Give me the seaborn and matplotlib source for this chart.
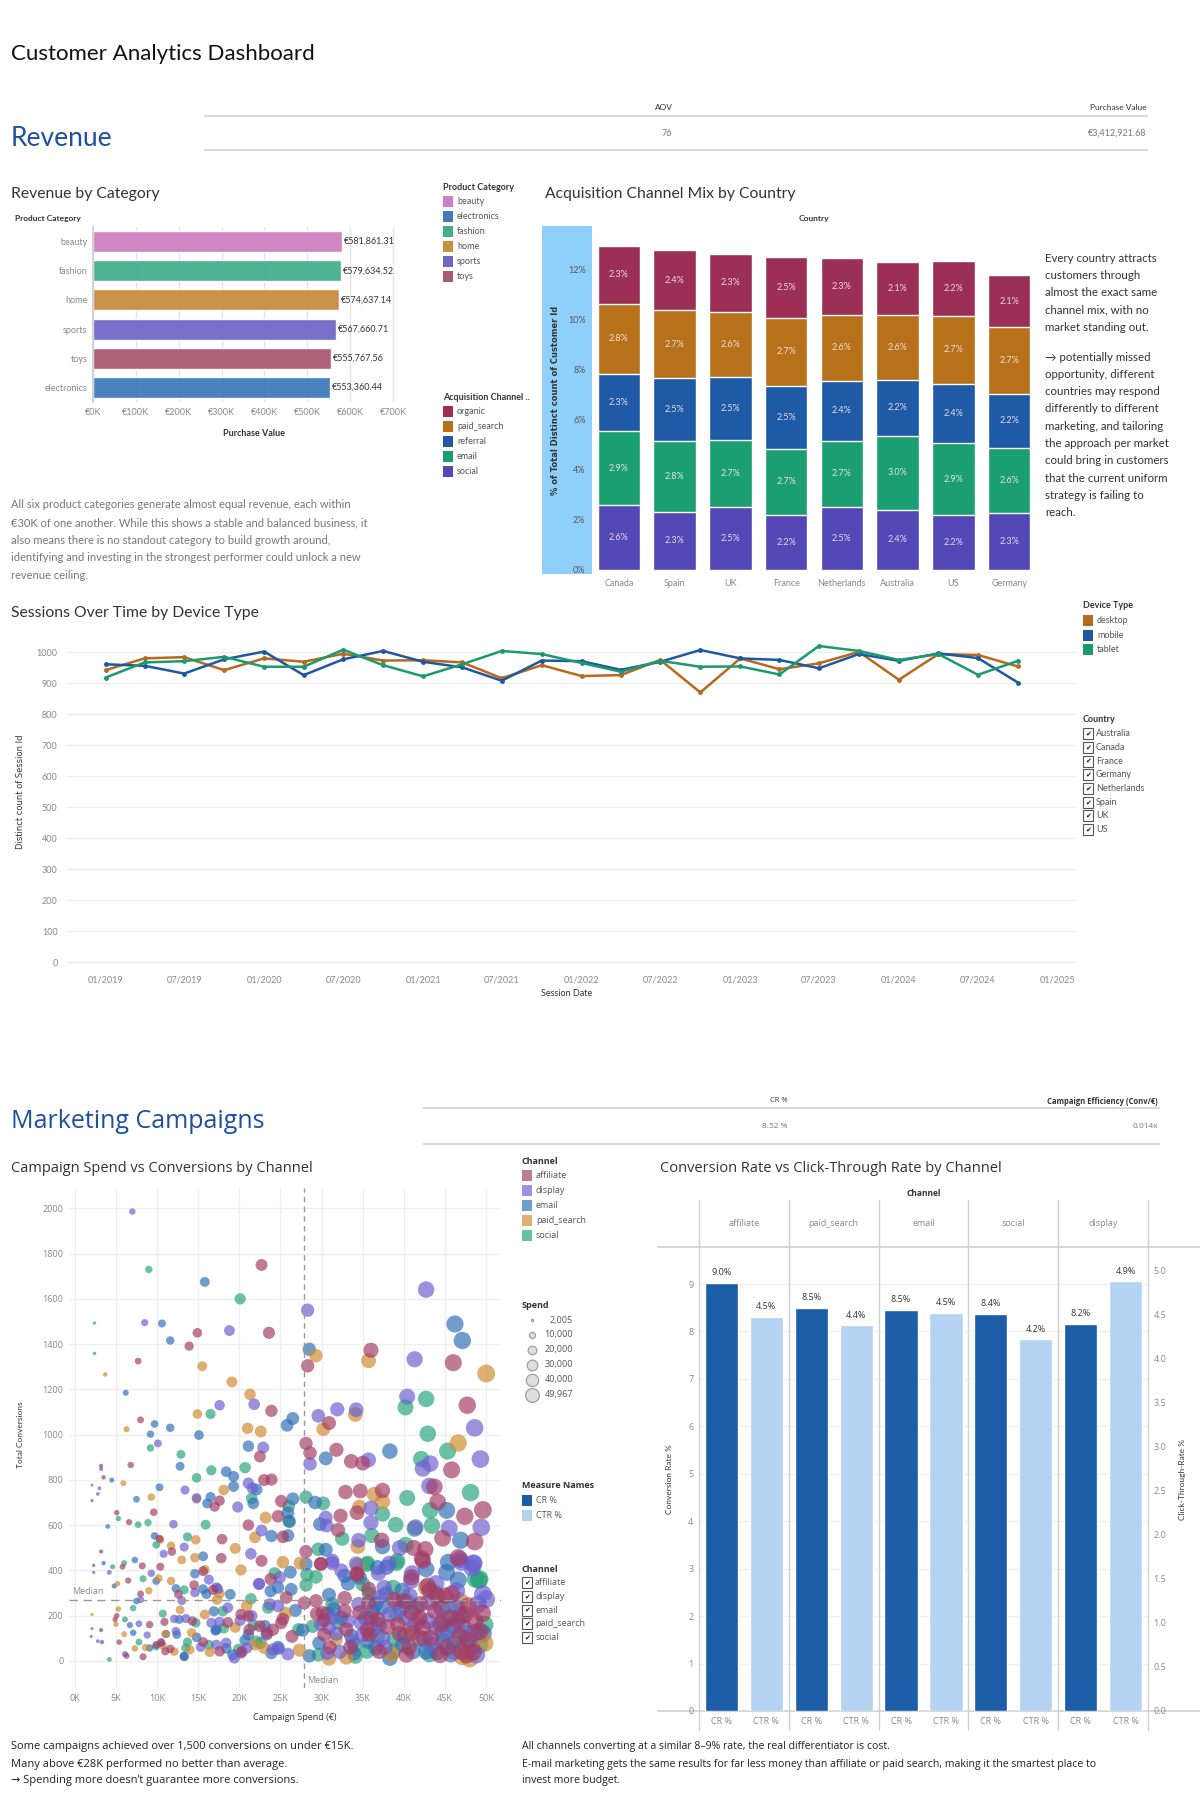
import matplotlib
matplotlib.use('Agg')
from matplotlib import pyplot as plt
from matplotlib import dates as mdates
from matplotlib.ticker import FuncFormatter, MultipleLocator
from matplotlib.patches import Rectangle
import pandas as pd
import seaborn as sns

W, H = 1200, 1800

# KPI tiles
aov = '76'
purchase_total = '€3,412,921.68'
cr_total = '8.52 %'
efficiency = '0.014x'

# revenue by category
rev_cats = ['beauty', 'fashion', 'home', 'sports', 'toys', 'electronics']
rev_vals = [581861.31, 579634.52, 574637.14, 567660.71, 555767.56, 553360.44]
cat_legend = ['beauty', 'electronics', 'fashion', 'home', 'sports', 'toys']
cat_colors = ['#cd80c0', '#3f7bb9', '#45ae8c', '#c98d40', '#7068c8', '#a95a73']

# acquisition channel mix (% of customers)
countries = ['Canada', 'Spain', 'UK', 'France', 'Netherlands', 'Australia', 'US', 'Germany']
mix_social = [2.59, 2.31, 2.52, 2.18, 2.50, 2.38, 2.18, 2.26]
mix_email = [2.94, 2.84, 2.67, 2.66, 2.66, 2.98, 2.87, 2.62]
mix_referral = [2.31, 2.51, 2.52, 2.52, 2.40, 2.22, 2.40, 2.17]
mix_paid = [2.81, 2.73, 2.62, 2.71, 2.63, 2.62, 2.70, 2.67]
mix_organic = [2.32, 2.39, 2.31, 2.46, 2.27, 2.13, 2.22, 2.06]
acq_legend = ['organic', 'paid_search', 'referral', 'email', 'social']
acq_colors = ['#9b2f55', '#b8711b', '#1e5aa5', '#1c9e73', '#5448b6']

# sessions per quarter
desktop = [943, 981, 985, 943, 981, 970, 996, 974, 975, 968, 917, 959,
           924, 927, 976, 871, 981, 946, 965, 1002, 912, 995, 992, 955]
mobile = [962, 957, 932, 978, 1003, 927, 978, 1005, 970, 952, 909, 974,
          972, 944, 970, 1008, 981, 976, 949, 995, 973, 997, 982, 903]
tablet = [919, 968, 972, 986, 954, 954, 1009, 959, 923, 962, 1005, 995,
          966, 938, 973, 954, 955, 929, 1021, 1005, 976, 995, 928, 973]
devices = ['desktop', 'mobile', 'tablet']
dev_colors = ['#b8691b', '#1e58a3', '#1c9a6f']
country_filter = ['Australia', 'Canada', 'France', 'Germany', 'Netherlands', 'Spain', 'UK', 'US']

# campaigns: (spend in K€, conversions)
affiliate_pts = [
    (22.7, 1750), (14.9, 1450), (23.6, 1450), (13.9, 1391), (36.0, 1373), (46.0, 1318), (7.7, 1325), (28.3, 1304),
    (23.9, 1105), (47.7, 1130), (30.9, 1051), (8.0, 1065), (22.5, 903), (28.1, 961), (28.6, 919), (31.8, 933),
    (33.6, 882), (35.0, 874), (45.8, 844), (3.2, 862), (3.5, 811), (6.8, 866), (2.1, 708), (23.0, 799), (23.9, 801),
    (17.6, 708), (17.0, 682), (25.1, 706), (32.9, 746), (34.7, 751), (37.4, 753), (43.7, 769), (44.1, 702), (49.6, 667),
    (24.7, 639), (21.1, 600), (25.3, 548), (32.0, 578), (32.3, 641), (34.3, 655), (37.3, 533), (41.2, 499), (42.6, 493),
    (44.7, 542), (47.4, 639), (48.6, 527), (46.6, 456), (42.2, 452), (34.3, 381), (29.9, 428), (28.1, 483), (23.8, 361),
    (22.7, 442), (5.1, 655), (6.6, 613), (9.6, 657), (10.3, 540), (11.8, 483), (17.8, 454), (17.9, 538), (15.6, 396),
    (10.4, 416), (8.2, 420), (5.8, 416), (3.2, 483), (2.3, 422), (6.5, 355), (8.0, 296), (5.1, 199), (4.9, 183), (9.1, 160),
    (3.2, 136), (3.3, 83), (5.4, 83), (6.3, 22), (8.3, 18), (11.6, 53), (10.9, 172), (12.6, 294), (14.5, 335), (15.6, 83),
    (16.8, 314), (18.6, 170), (20.3, 41), (21.2, 138), (23.4, 122), (25.3, 185), (26.4, 108), (27.9, 256),
    (29.9, 429), (34.3, 387), (35.7, 317), (42.3, 443), (40.9, 369), (42.9, 332), (43.1, 310), (45.8, 295), (45.0, 287),
    (40.0, 265), (35.7, 257), (32.8, 277), (29.3, 265), (29.4, 208), (30.1, 213), (32.8, 220), (33.0, 138), (30.3, 116),
    (34.6, 213), (35.5, 138), (36.8, 183), (39.3, 161), (40.9, 213), (41.9, 190), (42.3, 146), (43.3, 101), (45.6, 190),
    (47.4, 205), (48.6, 176), (49.2, 131), (47.6, 27), (47.0, 42), (44.4, 27), (41.9, 101), (40.3, 27), (37.0, 42),
    (35.8, 116), (41.0, 124), (46.8, 109), (47.8, 243), (21.1, 198), (22.5, 153), (24.1, 138), (25.1, 168), (17.6, 42),
    (20.2, 205), (25.7, 280), (14.3, 176), (10.5, 79), (9.9, 71), (11.0, 42),
    (30.3, 180), (31.0, 60), (33.5, 60), (36.0, 190), (38.0, 150), (39.5, 120), (40.6, 60), (42.0, 250), (43.8, 220),
    (44.5, 160), (45.2, 60), (46.5, 180), (47.8, 90), (48.4, 40), (49.5, 210), (38.8, 270), (44.0, 290)]
display_pts = [
    (7.0, 1986), (28.3, 1550), (8.5, 1495), (18.8, 1460), (42.7, 1641), (41.3, 1333), (21.8, 1134), (17.6, 1130),
    (40.4, 1168), (31.9, 1112), (34.2, 1110), (29.6, 1083), (48.6, 1030), (10.1, 961), (22.9, 943), (28.6, 870),
    (35.7, 888), (42.3, 850), (43.2, 872), (49.3, 892), (3.2, 848), (3.0, 763), (2.8, 738), (21.1, 785), (21.6, 763),
    (13.4, 755), (14.8, 720), (19.8, 680), (43.1, 773), (36.0, 675), (22.7, 576), (30.5, 633), (30.6, 598), (34.5, 533),
    (36.0, 611), (39.5, 499), (41.4, 590), (45.5, 586), (49.4, 590), (46.8, 448), (48.5, 432), (38.2, 430), (31.3, 432),
    (21.4, 473), (22.4, 341), (12.0, 604), (10.8, 473), (13.3, 503), (16.3, 359), (17.4, 318), (13.0, 266), (9.3, 387),
    (4.2, 391), (2.3, 391), (8.0, 270), (7.8, 164), (8.8, 114), (2.1, 142), (2.8, 87), (6.1, 30), (10.5, 83), (12.1, 185),
    (13.5, 187), (14.6, 302), (15.3, 61), (17.6, 172), (17.2, 71), (19.4, 12), (21.5, 199), (23.7, 250), (24.1, 51),
    (25.9, 30), (31.3, 443), (32.4, 399), (36.9, 387), (41.0, 387), (40.9, 354), (43.9, 342), (48.4, 429), (49.6, 295),
    (50.0, 272), (46.4, 310), (47.0, 436), (48.3, 411), (37.6, 324), (40.7, 287), (39.1, 257), (37.0, 280), (34.2, 429),
    (31.3, 190), (29.9, 161), (30.9, 146), (30.7, 34), (33.8, 86), (34.8, 168), (35.0, 116), (38.3, 205), (40.2, 190),
    (42.9, 176), (43.9, 146), (46.4, 235), (48.8, 27), (43.5, 71), (37.4, 101), (45.4, 131), (48.6, 124), (33.2, 176),
    (20.1, 179), (23.3, 116), (24.8, 54), (20.9, 57), (20.2, 34), (18.4, 79), (16.6, 168), (18.6, 235), (24.7, 243),
    (22.4, 339), (24.9, 369), (12.3, 131),
    (31.8, 120), (34.5, 250), (36.3, 140), (37.7, 60), (39.6, 230), (41.3, 160), (43.0, 260), (44.6, 230), (47.2, 150),
    (49.0, 250), (45.7, 30), (32.2, 40)]
email_pts = [
    (15.8, 1675), (10.6, 1491), (46.2, 1489), (47.1, 1416), (11.6, 1416), (28.5, 1377), (6.2, 1185), (26.5, 1071),
    (25.8, 1041), (9.7, 1047), (9.2, 1002), (11.6, 1030), (15.1, 998), (21.1, 949), (12.8, 860), (30.5, 895), (38.3, 927),
    (4.5, 799), (7.5, 714), (10.3, 767), (18.4, 836), (19.3, 815), (19.3, 771), (22.1, 757), (16.1, 696), (16.5, 724),
    (21.7, 696), (26.5, 716), (29.2, 700), (45.2, 665), (25.9, 655), (26.1, 615), (23.9, 552), (25.9, 554), (29.8, 604),
    (30.5, 491), (37.4, 505), (46.9, 533), (45.4, 436), (36.8, 412), (28.1, 428), (26.2, 392), (23.8, 308), (26.3, 316),
    (4.0, 594), (9.7, 552), (15.6, 462), (14.6, 385), (12.3, 320), (9.9, 353), (7.3, 446), (3.5, 432), (4.8, 331),
    (7.5, 264), (6.7, 158), (7.1, 124), (2.0, 108), (9.1, 57), (12.4, 116), (13.3, 20), (16.9, 219), (17.1, 134),
    (18.4, 55), (18.9, 294), (20.7, 91), (23.1, 154), (24.7, 61), (26.8, 223), (27.7, 136), (33.2, 342), (32.8, 376),
    (37.9, 414), (42.7, 406), (46.6, 357), (45.2, 391), (39.8, 310), (37.8, 295), (36.6, 253), (34.6, 369), (30.9, 292),
    (30.7, 208), (32.4, 190), (29.7, 79), (28.5, 22), (33.9, 34), (36.2, 220), (37.4, 235), (41.5, 235), (44.8, 176),
    (46.2, 79), (42.7, 42), (41.1, 42), (39.9, 71), (38.3, 12), (36.6, 57), (35.6, 86), (46.0, 153), (44.8, 86),
    (23.9, 34), (21.1, 116), (19.2, 27), (17.2, 138), (16.0, 295), (15.6, 317), (24.7, 324), (17.2, 324), (13.3, 19),
    (14.8, 104), (12.7, 183), (11.1, 119),
    (31.5, 230), (33.6, 110), (35.3, 190), (37.0, 160), (40.1, 110), (42.5, 95), (44.0, 40), (46.9, 200), (48.2, 60),
    (49.6, 120)]
paid_pts = [
    (29.3, 1349), (35.7, 1327), (50.0, 1270), (3.7, 1266), (15.5, 1302), (19.1, 1233), (21.3, 1178), (14.9, 1091),
    (34.1, 1089), (30.2, 1024), (46.6, 963), (6.3, 1024), (21.0, 1028), (22.6, 1014), (5.9, 785), (9.3, 724), (14.8, 716),
    (18.1, 755), (36.4, 736), (37.4, 704), (34.6, 680), (23.2, 633), (21.9, 546), (19.5, 497), (34.4, 505), (34.4, 422),
    (27.4, 432), (25.3, 436), (20.2, 402), (10.4, 535), (11.7, 509), (13.0, 446), (14.7, 535), (14.6, 456), (15.8, 402),
    (11.7, 353), (10.2, 365), (5.2, 341), (2.1, 205), (9.0, 310), (5.3, 229), (5.0, 162), (6.0, 118), (7.3, 55), (8.6, 59),
    (10.7, 67), (12.1, 41), (11.0, 118), (12.8, 225), (14.2, 124), (14.0, 49), (15.8, 205), (17.3, 270), (16.4, 39),
    (19.5, 148), (21.9, 71), (25.6, 211), (27.3, 47), (31.7, 94), (30.9, 9), (49.8, 79), (47.1, 19), (42.7, 324),
    (41.9, 176), (46.8, 265), (23.0, 57), (20.9, 243), (17.6, 298),
    (33.0, 15), (38.5, 30), (44.3, 250), (48.0, 10), (40.8, 140)]
social_pts = [
    (9.0, 1730), (20.1, 1600), (2.4, 1493), (2.4, 1359), (16.5, 1091), (40.2, 1120), (42.7, 1158), (42.9, 1004),
    (45.3, 927), (9.2, 941), (12.9, 913), (20.7, 854), (42.1, 892), (2.1, 777), (14.8, 809), (16.6, 842), (21.5, 718),
    (26.0, 684), (28.1, 724), (30.2, 696), (40.4, 720), (43.2, 665), (48.1, 744), (26.0, 619), (29.6, 493), (32.5, 540),
    (36.1, 554), (37.4, 649), (39.0, 602), (40.2, 513), (41.3, 584), (43.4, 598), (49.2, 361), (39.2, 442), (35.6, 432),
    (29.3, 371), (28.2, 381), (24.3, 387), (21.4, 274), (5.3, 629), (7.7, 602), (8.9, 611), (15.9, 602), (9.9, 513),
    (13.7, 548), (13.3, 314), (8.3, 363), (6.0, 432), (4.6, 416), (7.1, 233), (6.1, 183), (4.2, 6), (7.8, 83), (9.9, 63),
    (10.7, 209), (13.7, 83), (14.7, 168), (16.3, 71), (18.1, 144), (19.9, 51), (22.6, 79), (27.2, 138), (28.1, 335),
    (35.5, 426), (39.1, 432), (49.1, 357), (43.7, 302), (38.7, 324), (35.8, 295), (35.0, 339), (28.9, 153), (31.3, 250),
    (29.6, 27), (34.1, 19), (39.1, 205), (49.2, 71), (46.0, 42), (38.7, 42), (35.5, 42), (38.9, 94), (44.8, 124),
    (48.7, 362), (21.7, 158), (22.1, 86), (18.0, 220), (23.5, 235), (13.5, 57),
    (32.0, 170), (34.0, 70), (36.8, 110), (40.5, 260), (43.1, 30), (45.5, 240), (47.5, 120), (49.8, 160)]
camp_channels = ['affiliate', 'display', 'email', 'paid_search', 'social']
camp_colors = ['#a33b64', '#6a5fd0', '#2e6eb7', '#cf8a31', '#27a37a']
median_spend = 27800
median_conv = 270
spend_legend = [2005, 10000, 20000, 30000, 40000, 49967]

# conversion vs click-through rate
rate_channels = ['affiliate', 'paid_search', 'email', 'social', 'display']
cr_vals = [9.02, 8.50, 8.46, 8.37, 8.16]
ctr_vals = [4.48, 4.38, 4.52, 4.22, 4.88]
cr_color = '#1b5da6'
ctr_color = '#b4d3f2'


sns.set_theme(style='white')
plt.rcParams['font.family'] = ['Lato', 'DejaVu Sans']
OPEN = ['Open Sans', 'DejaVu Sans']
GRAY = '#888888'
DARK = '#333333'


def rect(l, t, r, b):
    return [l / W, 1 - b / H, (r - l) / W, (b - t) / H]


fig = plt.figure(figsize=(12, 18), dpi=100)
over = fig.add_axes([0, 0, 1, 1])
over.set_xlim(0, W)
over.set_ylim(H, 0)
over.axis('off')


def txt(x, y, s, size=6.5, color=DARK, **kw):
    kw.setdefault('va', 'center')
    over.text(x, y, s, fontsize=size, color=color, **kw)


def hline(x0, x1, y, color='#d9d9d9', lw=1.5):
    over.plot([x0, x1], [y, y], color=color, lw=lw, solid_capstyle='butt')


def swatches(x, y, title, labels, colors, step=14.9, alpha=1.0, family=None):
    txt(x, y, title, fontweight='bold', family=family)
    for i, (lab, col) in enumerate(zip(labels, colors)):
        yy = y + step * (i + 1)
        over.add_patch(Rectangle((x, yy - 5.5), 10, 11, color=col, lw=0, alpha=alpha))
        txt(x + 14, yy, lab, color='#555555', family=family)


def checklist(x, y, title, labels, step=13.7, family=None):
    txt(x, y, title, fontweight='bold', family=family)
    for i, lab in enumerate(labels):
        yy = y + step * (i + 1)
        over.add_patch(Rectangle((x, yy - 5.5), 10, 11, fc='white', ec='#555555', lw=0.8))
        over.text(x + 5, yy, '✔', family='DejaVu Sans', fontsize=5, ha='center', va='center', color='#111111')
        txt(x + 13, yy, lab, color='#555555', family=family)


# ---------------- header ----------------
txt(11, 54, 'Customer Analytics Dashboard', size=16, color='#111111')
txt(11, 138, 'Revenue', size=19, color='#1f4f9e')
hline(204, 1148, 116)
hline(204, 1148, 150)
txt(664, 107, 'AOV', size=6, ha='center')
txt(667, 133, aov, size=6.5, color='#777777', ha='center')
txt(1146, 107, 'Purchase Value', size=6, ha='right')
txt(1146, 133, purchase_total, size=6.5, color='#777777', ha='right')

# ---------------- revenue by category ----------------
txt(11, 194, 'Revenue by Category', size=11.3)
txt(15, 219, 'Product Category', size=6, fontweight='bold')
ax = fig.add_axes(rect(93, 227, 402, 402))
pal = dict(zip(cat_legend, cat_colors))
sns.barplot(x=rev_vals, y=rev_cats, hue=rev_cats, palette=pal, orient='h', width=0.72,
            saturation=1, legend=False, errorbar=None, ax=ax, alpha=0.95)
for i, v in enumerate(rev_vals):
    ax.text(v + 4000, i, f'€{v:,.2f}', fontsize=6.5, color=DARK, va='center')
ax.set_xlim(0, 721000)
ax.set_ylim(5.5, -0.5)
ax.xaxis.set_major_locator(MultipleLocator(100000))
ax.xaxis.set_major_formatter(FuncFormatter(lambda v, p: f'€{v / 1000:.0f}K'))
ax.grid(axis='x', color='#e4e4e4', lw=1)
ax.set_axisbelow(True)
ax.tick_params(labelsize=6.5, colors=GRAY, length=0, pad=4)
ax.set_xlabel('')
ax.set_ylabel('')
sns.despine(ax=ax, left=False, bottom=True, top=True, right=True)
ax.spines['left'].set_color('#cccccc')
txt(254, 433, 'Purchase Value', fontweight='bold', ha='center')

swatches(443, 187, 'Product Category', cat_legend, cat_colors)
swatches(443, 397, 'Acquisition Channel ..', acq_legend, acq_colors)

rev_note = ['All six product categories generate almost equal revenue, each within',
            '€30K of one another. While this shows a stable and balanced business, it',
            'also means there is no standout category to build growth around,',
            'identifying and investing in the strongest performer could unlock a new',
            'revenue ceiling.']
for i, line in enumerate(rev_note):
    txt(11, 505 + 17.6 * i, line, size=8, color='#777777')

# ---------------- acquisition channel mix ----------------
txt(545, 194, 'Acquisition Channel Mix by Country', size=11.3)
txt(814, 218, 'Country', size=6, fontweight='bold', ha='center')
over.add_patch(Rectangle((542, 226), 50, 348, color='#8fd0fb', lw=0))
over.text(556, 400, '% of Total Distinct count of Customer Id', rotation=90, fontsize=6,
          color=DARK, fontweight='bold', ha='center', va='center', family='DejaVu Sans')

ax = fig.add_axes(rect(591, 225, 1037, 572))
ax.patch.set_alpha(0)
mix = pd.DataFrame({'country': countries, 'social': mix_social, 'email': mix_email,
                    'referral': mix_referral, 'paid_search': mix_paid, 'organic': mix_organic})
stack = ['social', 'email', 'referral', 'paid_search', 'organic']
acq_pal = dict(zip(acq_legend, acq_colors))
tops = mix[stack].cumsum(axis=1)
for ch in reversed(stack):
    sns.barplot(x=mix['country'], y=tops[ch], order=countries, color=acq_pal[ch], saturation=1,
                width=0.76, edgecolor='white', linewidth=1.0, errorbar=None, ax=ax)
for ch in stack:
    for i in range(len(countries)):
        val = mix.loc[i, ch]
        ax.text(i, tops.loc[i, ch] - val / 2, f'{val:.1f}%', ha='center', va='center',
                fontsize=6.5, color='#f6e8f0', alpha=0.9)
ax.set_ylim(-0.1, 13.8)
ax.set_xlim(-0.5, 7.5)
ax.yaxis.set_major_locator(MultipleLocator(2))
ax.yaxis.set_major_formatter(FuncFormatter(lambda v, p: f'{v:.0f}%'))
ax.tick_params(axis='y', labelsize=6.5, colors='#555555', length=2, width=0.6, pad=2)
ax.tick_params(axis='x', labelsize=6.5, colors=GRAY, length=0, pad=5)
ax.set_xlabel('')
ax.set_ylabel('')
sns.despine(ax=ax, left=True, bottom=True)

mix_note = ['Every country attracts', 'customers through', 'almost the exact same',
            'channel mix, with no', 'market standing out.', None,
            '→ potentially missed', 'opportunity, different', 'countries may respond',
            'differently to different', 'marketing, and tailoring', 'the approach per market',
            'could bring in customers', 'that the current uniform', 'strategy is failing to', 'reach.']
yy = 258
for line in mix_note:
    if line is None:
        yy += 12.6
        continue
    txt(1045, yy, line, size=8.3, color=DARK)
    yy += 17.3

# ---------------- sessions over time ----------------
txt(11, 613, 'Sessions Over Time by Device Type', size=11.3)
quarters = pd.date_range('2019-01-01', periods=len(desktop), freq='QS')
sess = pd.DataFrame({'date': list(quarters) * 3,
                     'device': ['desktop'] * len(desktop) + ['mobile'] * len(mobile) + ['tablet'] * len(tablet),
                     'sessions': desktop + mobile + tablet})
ax = fig.add_axes(rect(66, 637, 1077, 967))
sns.lineplot(data=sess, x='date', y='sessions', hue='device', palette=dict(zip(devices, dev_colors)),
             marker='o', markersize=3.5, markeredgewidth=0, linewidth=1.8, legend=False, ax=ax)
ax.set_ylim(-15, 1050)
ax.set_xlim(pd.Timestamp('2018-10-02'), pd.Timestamp('2025-02-14'))
ax.yaxis.set_major_locator(MultipleLocator(100))
ax.xaxis.set_major_locator(mdates.MonthLocator(bymonth=[1, 7]))
ax.xaxis.set_major_formatter(mdates.DateFormatter('%m/%Y'))
ax.grid(axis='y', color='#eeeeee', lw=1)
ax.tick_params(labelsize=6.5, colors=GRAY, length=0, pad=6)
ax.set_xlabel('')
ax.set_ylabel('')
sns.despine(ax=ax, left=True, bottom=True)
txt(567, 994, 'Session Date', ha='center')
over.text(21, 792, 'Distinct count of Session Id', rotation=90, fontsize=6, color=DARK,
          ha='center', va='center', family='DejaVu Sans')
swatches(1083, 606, 'Device Type', devices, dev_colors, step=14.5)
checklist(1083, 720, 'Country', country_filter)

# ---------------- marketing campaigns ----------------
txt(11, 1122, 'Marketing Campaigns', size=18, color='#1f4f9e', family=OPEN)
hline(423, 1160, 1108)
hline(423, 1160, 1144)
txt(779, 1101, 'CR %', size=5.5, ha='center', family=OPEN)
txt(775, 1127, cr_total, size=6, color='#777777', ha='center', family=OPEN)
txt(1158, 1101, 'Campaign Efficiency (Conv/€)', size=5.5, ha='right', fontweight='bold', family=OPEN)
txt(1158, 1127, efficiency, size=6, color='#777777', ha='right', family=OPEN)

# scatter
txt(11, 1168, 'Campaign Spend vs Conversions by Channel', size=10.5, family=OPEN)
frames = []
for ch, pts in [('social', social_pts), ('email', email_pts), ('paid_search', paid_pts),
                ('display', display_pts), ('affiliate', affiliate_pts)]:
    d = pd.DataFrame(pts, columns=['spend_k', 'conversions'])
    d['channel'] = ch
    frames.append(d)
camp = pd.concat(frames, ignore_index=True)
camp['spend'] = camp['spend_k'] * 1000
size_rng = (5, 165)
ax = fig.add_axes(rect(69, 1188, 501, 1688))
sns.scatterplot(data=camp, x='spend', y='conversions', hue='channel', size='spend',
                sizes=size_rng, size_norm=(spend_legend[0], spend_legend[-1]),
                palette=dict(zip(camp_channels, camp_colors)), alpha=0.68, linewidth=0,
                legend=False, ax=ax)
ax.axvline(median_spend, color='#999999', lw=1, ls=(0, (4, 3)))
ax.axhline(median_conv, color='#999999', lw=1, ls=(0, (6, 4)))
ax.text(-300, median_conv + 18, 'Median', fontsize=6.5, color=GRAY, va='bottom', family=OPEN)
ax.text(median_spend + 400, -85, 'Median', fontsize=6.5, color=GRAY, va='center', family=OPEN)
ax.set_xlim(-700, 51800)
ax.set_ylim(-120, 2090)
ax.xaxis.set_major_locator(MultipleLocator(5000))
ax.xaxis.set_major_formatter(FuncFormatter(lambda v, p: f'{v / 1000:.0f}K'))
ax.yaxis.set_major_locator(MultipleLocator(200))
ax.grid(color='#efefef', lw=1)
ax.set_axisbelow(True)
ax.tick_params(labelsize=6.5, colors=GRAY, length=0, pad=4)
for lab in ax.get_xticklabels() + ax.get_yticklabels():
    lab.set_family(OPEN)
ax.set_xlabel('')
ax.set_ylabel('')
sns.despine(ax=ax, left=True, bottom=True)
txt(295, 1718, 'Campaign Spend (€)', size=6.5, ha='center', family=OPEN)
over.text(21, 1435, 'Total Conversions', rotation=90, fontsize=6, color=DARK,
          ha='center', va='center')

swatches(522, 1161, 'Channel', camp_channels, camp_colors, alpha=0.68, family=OPEN)
txt(522, 1306, 'Spend', fontweight='bold', family=OPEN)
lo, hi = spend_legend[0], spend_legend[-1]
for i, v in enumerate(spend_legend):
    yy = 1320 + 14.9 * i
    s = size_rng[0] + (v - lo) / (hi - lo) * (size_rng[1] - size_rng[0])
    over.scatter([532], [yy], s=s * 0.6, fc='#dddddd', ec='#9a9a9a', lw=0.8)
    txt(573, yy, f'{v:,}', color='#555555', ha='right', family=OPEN)
swatches(522, 1486, 'Measure Names', ['CR %', 'CTR %'], [cr_color, ctr_color], step=14.5, family=OPEN)
checklist(522, 1569, 'Channel', camp_channels, family=OPEN)

camp_note = ['Some campaigns achieved over 1,500 conversions on under €15K.',
             'Many above €28K performed no better than average.',
             '→ Spending more doesn’t guarantee more conversions.']
for i, line in enumerate(camp_note):
    txt(11, 1747 + 17 * i, line, size=8, color='#222222', family=OPEN)

# conversion rate vs click-through rate
txt(660, 1168, 'Conversion Rate vs Click-Through Rate by Channel', size=10.5, family=OPEN)
txt(924, 1193, 'Channel', size=6, fontweight='bold', ha='center', family=OPEN)
slots = []
for ch in rate_channels:
    slots += [ch + '|CR', ch + '|CTR']
ax = fig.add_axes(rect(699, 1247, 1148, 1711))
ax.patch.set_alpha(0)
sns.barplot(x=[c + '|CR' for c in rate_channels], y=cr_vals, order=slots, color=cr_color,
            saturation=1, width=0.74, errorbar=None, ax=ax)
ax2 = ax.twinx()
sns.barplot(x=[c + '|CTR' for c in rate_channels], y=ctr_vals, order=slots, color=ctr_color,
            saturation=1, width=0.74, errorbar=None, ax=ax2)
for i, ch in enumerate(rate_channels):
    ax.text(2 * i, cr_vals[i] + 0.12, f'{cr_vals[i]:.1f}%', ha='center', va='bottom',
            fontsize=6.5, color=DARK, family=OPEN)
    ax2.text(2 * i + 1, ctr_vals[i] + 0.065, f'{ctr_vals[i]:.1f}%', ha='center', va='bottom',
             fontsize=6.5, color=DARK, family=OPEN)
    ax.text(2 * i + 0.5, 1.05, ch, transform=ax.get_xaxis_transform(), ha='center', va='center',
            fontsize=6.5, color=GRAY, family=OPEN)
for b in [-0.5, 1.5, 3.5, 5.5, 7.5, 9.5]:
    ax.axvline(b, ymin=-0.04, ymax=1.101, color='#d0d0d0', lw=1, clip_on=False)
ax.set_xlim(-0.5, 9.5)
ax2.set_xlim(-0.5, 9.5)
ax.set_ylim(0, 9.78)
ax2.set_ylim(0, 5.27)
ax.yaxis.set_major_locator(MultipleLocator(1))
ax2.yaxis.set_major_locator(MultipleLocator(0.5))
ax2.yaxis.set_major_formatter(FuncFormatter(lambda v, p: f'{v:.1f}'))
ax.grid(axis='y', color='#f0f0f0', lw=1)
ax.set_axisbelow(True)
ax.set_xticks(range(len(slots)))
ax.set_xticklabels(['CR %' if s.endswith('|CR') else 'CTR %' for s in slots])
for a in (ax, ax2):
    a.tick_params(labelsize=6.5, colors=GRAY, length=0, pad=4)
    a.set_xlabel('')
    a.set_ylabel('')
    for sp in a.spines.values():
        sp.set_visible(False)
    for lab in a.get_xticklabels() + a.get_yticklabels():
        lab.set_family(OPEN)
hline(657, 1200, 1247, color='#d0d0d0', lw=1.2)
hline(657, 1200, 1711, color='#d0d0d0', lw=1.2)
over.text(669, 1479, 'Conversion Rate %', rotation=90, fontsize=6, color=DARK, ha='center', va='center')
over.text(1182, 1479, 'Click-Through-Rate %', rotation=90, fontsize=6, color=DARK, ha='center', va='center')

rate_note = ['All channels converting at a similar 8–9% rate, the real differentiator is cost.',
             'E-mail marketing gets the same results for far less money than affiliate or paid search, making it the smartest place to',
             'invest more budget.']
for i, line in enumerate(rate_note):
    txt(522, 1747 + 17 * i, line, size=7.6, color='#222222', family=OPEN)

fig.savefig('out.png', dpi=100)
